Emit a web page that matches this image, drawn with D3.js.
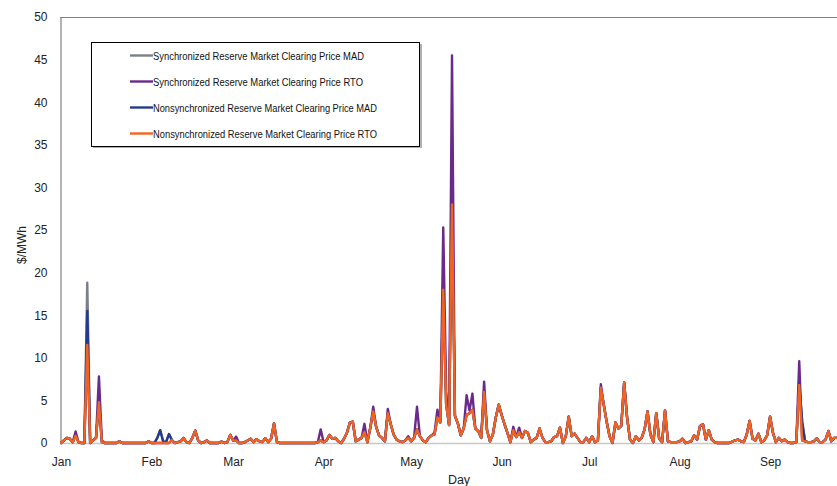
<!DOCTYPE html>
<html>
<head>
<meta charset="utf-8">
<script src="https://cdn.jsdelivr.net/npm/d3@7"></script>
<style>
  html, body { margin: 0; padding: 0; background: #fff; }
  svg { display: block; font-family: "Liberation Sans", Arial, sans-serif; }
</style>
</head>
<body>
<svg id="chart" width="837" height="486"></svg>
<script>
// ---- data (daily values starting Jan 1) ----
const seriesNames = [
  "Synchronized Reserve Market Clearing Price MAD",
  "Synchronized Reserve Market Clearing Price RTO",
  "Nonsynchronized Reserve Market Clearing Price MAD",
  "Nonsynchronized Reserve Market Clearing Price RTO"
];
const monthLabels = ["Jan","Feb","Mar","Apr","May","Jun","Jul","Aug","Sep"];
const yTicks = [0,5,10,15,20,25,30,35,40,45,50];

const syncMAD = [
  0,0.3,0.6,0.5,0.1,0.85,0.1,0,0,18.8,
  0,0.3,0.6,4.8,0.1,0,0,0,0,0,
  0.2,0,0,0,0,0,0,0,0,0,
  0.2,0,0,0.6,1.5,0.2,0.1,1.05,0.35,0,
  0.1,0.2,0.55,0.1,0,0.6,1.45,0.3,0,0.1,
  0.3,0,0,0,0,0.15,0,0.1,0.95,0.3,
  0.3,0,0,0.1,0.3,0.5,0.1,0.45,0.2,0.1,
  0.55,0.1,0.5,2.3,0.1,0,0,0,0,0,
  0,0,0,0,0,0,0,0,0.1,0.3,
  0.1,0.3,0.95,0.5,0.6,0.2,0,0.5,1.2,2.4,
  2.5,0.2,0.4,0.6,1.3,0.1,1.8,3.7,1.9,0.9,
  0.6,0.2,3.5,2.2,1.0,0.4,0.2,0.1,0.3,0.6,
  0.2,0.6,1.6,0.8,0.3,0.1,0.6,0.9,1.0,3.0,
  2.4,18.0,4.5,2.1,28.0,3.2,2.3,0.9,1.7,3.3,
  3.5,3.9,1.7,1.4,0.6,6.0,1.5,0.2,1.0,3.0,
  4.5,3.3,2.2,1.2,0.1,1.5,0.7,1.3,0.6,1.4,
  1.2,0.1,0.4,0.6,1.7,0.6,0.1,0.1,0.2,0.7,
  0.8,1.8,0,0.8,3.1,0.8,1.1,0.6,0.1,0.1,
  0.6,0.1,0.8,0.1,0.3,6.5,4.5,2.5,0.8,0,
  2.4,1.7,2.0,7.1,3.0,0.4,0,0.8,0.3,0.6,
  1.6,3.7,1.0,0.1,3.5,0.5,0.1,3.8,0.2,0.1,
  0.1,0.1,0.2,0.5,0,0.1,0.2,0.9,0.4,2.0,
  2.2,0.4,1.5,0.4,0.1,0,0,0,0,0,
  0.15,0.3,0.4,0.2,0.1,1.0,2.6,0.5,0.3,1.1,
  0.1,0.3,0.9,3.1,1.2,0.1,0.6,0.2,0.4,0.1,
  0,0,0.1,7.0,2.5,0.2,0.1,0.1,0.2,0.55,
  0.1,0.1,0.4,1.4,0.2,0.6,0.6,0.3
];
const syncRTO = [
  0,0.3,0.6,0.5,0.1,1.35,0.1,0,0,11.5,
  0,0.3,0.6,7.8,0.3,0,0,0,0,0,
  0.2,0,0,0,0,0,0,0,0,0,
  0.2,0,0,0,0,0,0,0,0.35,0,
  0.1,0.2,0.6,0.1,0,0.6,1.45,0.3,0,0.1,
  0.3,0,0,0,0,0.15,0,0.1,0.95,0.3,
  0.75,0,0,0.1,0.3,0.5,0.1,0.45,0.2,0.1,
  0.55,0.1,0.5,2.3,0.1,0,0,0,0,0,
  0,0,0,0,0,0,0,0,0.1,1.6,
  0.1,0.3,0.95,0.5,0.6,0.2,0,0.5,1.2,2.4,
  2.5,0.2,0.4,0.6,2.25,0.1,1.8,4.25,1.9,0.9,
  0.6,0.2,4.0,2.2,1.0,0.4,0.2,0.1,0.3,0.8,
  0.2,0.6,4.25,0.8,0.3,0.1,0.6,0.9,1.2,3.9,
  2.6,25.3,6.0,2.1,45.5,3.2,2.3,0.9,1.7,5.6,
  3.8,5.8,1.7,1.4,0.6,7.2,1.5,0.2,1.0,3.0,
  4.5,3.3,2.2,1.2,0.1,1.9,0.7,1.8,0.6,1.4,
  1.2,0.1,0.4,0.6,1.7,0.6,0.1,0.1,0.2,0.7,
  0.8,1.8,0,0.8,3.1,0.8,1.1,0.6,0.1,0.1,
  0.6,0.1,0.8,0.1,0.3,6.9,4.5,2.5,0.8,0,
  2.4,1.7,2.0,7.1,3.0,0.4,0,0.8,0.3,0.6,
  1.6,3.7,1.0,0.1,3.5,0.5,0.1,3.8,0.2,0.1,
  0.1,0.1,0.2,0.5,0,0.1,0.2,0.9,0.4,2.0,
  2.2,0.4,1.5,0.4,0.1,0,0,0,0,0,
  0.15,0.3,0.4,0.2,0.1,1.0,2.6,0.5,0.3,1.1,
  0.1,0.3,0.9,3.1,1.2,0.1,0.6,0.2,0.4,0.1,
  0,0,0.1,9.6,0.3,0.2,0.1,0.1,0.2,0.55,
  0.1,0.1,0.4,1.4,0.2,0.6,0.6,0.3
];
const nonsyncMAD = [
  0,0.3,0.6,0.5,0.1,0.85,0.1,0,0,15.5,
  0,0.3,0.6,4.8,0.1,0,0,0,0,0,
  0.2,0,0,0,0,0,0,0,0,0,
  0.2,0,0,0.6,1.5,0.2,0.1,1.05,0.35,0,
  0.1,0.2,0.55,0.1,0,0.6,1.45,0.3,0,0.1,
  0.3,0,0,0,0,0.15,0,0.1,0.95,0.3,
  0.3,0,0,0.1,0.3,0.5,0.1,0.45,0.2,0.1,
  0.55,0.1,0.5,2.3,0.1,0,0,0,0,0,
  0,0,0,0,0,0,0,0,0.1,0.3,
  0.1,0.3,0.95,0.5,0.6,0.2,0,0.5,1.2,2.4,
  2.5,0.2,0.4,0.6,1.3,0.1,1.8,3.7,1.9,0.9,
  0.6,0.2,3.5,2.2,1.0,0.4,0.2,0.1,0.3,0.6,
  0.2,0.6,1.6,0.8,0.3,0.1,0.6,0.9,1.0,3.0,
  2.4,18.0,4.5,2.1,28.0,3.2,2.3,0.9,1.7,3.3,
  3.5,3.9,1.7,1.4,0.6,6.0,1.5,0.2,1.0,3.0,
  4.5,3.3,2.2,1.2,0.1,1.5,0.7,1.3,0.6,1.4,
  1.2,0.1,0.4,0.6,1.7,0.6,0.1,0.1,0.2,0.7,
  0.8,1.8,0,0.8,3.1,0.8,1.1,0.6,0.1,0.1,
  0.6,0.1,0.8,0.1,0.3,6.5,4.5,2.5,0.8,0,
  2.4,1.7,2.0,7.1,3.0,0.4,0,0.8,0.3,0.6,
  1.6,3.7,1.0,0.1,3.5,0.5,0.1,3.8,0.2,0.1,
  0.1,0.1,0.2,0.5,0,0.1,0.2,0.9,0.4,2.0,
  2.2,0.4,1.5,0.4,0.1,0,0,0,0,0,
  0.15,0.3,0.4,0.2,0.1,1.0,2.6,0.5,0.3,1.1,
  0.1,0.3,0.9,3.1,1.2,0.1,0.6,0.2,0.4,0.1,
  0,0,0.1,7.0,2.5,0.2,0.1,0.1,0.2,0.55,
  0.1,0.1,0.4,1.4,0.2,0.6,0.6,0.3
];
const nonsyncRTO = [
  0,0.3,0.6,0.5,0.1,0.85,0.1,0,0,11.5,
  0,0.3,0.6,4.8,0.1,0,0,0,0,0,
  0.2,0,0,0,0,0,0,0,0,0,
  0.2,0,0,0,0,0,0,0,0.35,0,
  0.1,0.2,0.55,0.1,0,0.6,1.45,0.3,0,0.1,
  0.3,0,0,0,0,0.15,0,0.1,0.95,0.3,
  0.3,0,0,0.1,0.3,0.5,0.1,0.45,0.2,0.1,
  0.55,0.1,0.5,2.3,0.1,0,0,0,0,0,
  0,0,0,0,0,0,0,0,0.1,0.3,
  0.1,0.3,0.95,0.5,0.6,0.2,0,0.5,1.2,2.4,
  2.5,0.2,0.4,0.6,1.3,0.1,1.8,3.7,1.9,0.9,
  0.6,0.2,3.5,2.2,1.0,0.4,0.2,0.1,0.3,0.6,
  0.2,0.6,1.6,0.8,0.3,0.1,0.6,0.9,1.0,3.0,
  2.4,18.0,4.5,2.1,28.0,3.2,2.3,0.9,1.7,3.3,
  3.5,3.9,1.7,1.4,0.6,6.0,1.5,0.2,1.0,3.0,
  4.5,3.3,2.2,1.2,0.1,1.5,0.7,1.3,0.6,1.4,
  1.2,0.1,0.4,0.6,1.7,0.6,0.1,0.1,0.2,0.7,
  0.8,1.8,0,0.8,3.1,0.8,1.1,0.6,0.1,0.1,
  0.6,0.1,0.8,0.1,0.3,6.5,4.5,2.5,0.8,0,
  2.4,1.7,2.0,7.1,3.0,0.4,0,0.8,0.3,0.6,
  1.6,3.7,1.0,0.1,3.5,0.5,0.1,3.8,0.2,0.1,
  0.1,0.1,0.2,0.5,0,0.1,0.2,0.9,0.4,2.0,
  2.2,0.4,1.5,0.4,0.1,0,0,0,0,0,
  0.15,0.3,0.4,0.2,0.1,1.0,2.6,0.5,0.3,1.1,
  0.1,0.3,0.9,3.1,1.2,0.1,0.6,0.2,0.4,0.1,
  0,0,0.1,6.8,0.3,0.2,0.1,0.1,0.2,0.55,
  0.1,0.1,0.4,1.4,0.2,0.6,0.6,0.3
];

// ---- drawing ----
const colors = ["#7a8089", "#6a2a8a", "#243a8c", "#f26322"];
const seriesData = [syncMAD, syncRTO, nonsyncMAD, nonsyncRTO];

const svg = d3.select("#chart");
const startDate = new Date(Date.UTC(2015, 0, 1));
const endDate = new Date(Date.UTC(2015, 9, 1));
const plot = { left: 60, top: 17, bottom: 443, right: 858 };

const x = d3.scaleUtc().domain([startDate, endDate]).range([61, 857.6]);
const y = d3.scaleLinear().domain([0, 50]).range([plot.bottom, plot.top]);

const dayDate = i => d3.utcDay.offset(startDate, i);

// clip
svg.append("defs").append("clipPath").attr("id", "clip")
  .append("rect").attr("x", plot.left).attr("y", 0)
  .attr("width", plot.right - plot.left).attr("height", plot.bottom + 2);

// baseline (light gray)
const xAxis = d3.axisBottom(x)
  .tickValues(d3.utcMonth.range(startDate, endDate))
  .tickFormat((d, i) => monthLabels[i])
  .tickSize(0).tickPadding(14);
const gx = svg.append("g").attr("transform", `translate(0,${plot.bottom})`).call(xAxis);
gx.select(".domain").remove();
gx.selectAll("text").attr("font-size", 12).attr("fill", "#222")
  .attr("font-family", "Liberation Sans, Arial, sans-serif");
svg.append("line").attr("x1", plot.left).attr("x2", plot.right)
  .attr("y1", plot.bottom + 0.5).attr("y2", plot.bottom + 0.5)
  .attr("stroke", "#c8c8c8").attr("stroke-width", 1.5);

// top border
svg.append("line").attr("x1", plot.left).attr("x2", plot.right)
  .attr("y1", plot.top + 0.5).attr("y2", plot.top + 0.5)
  .attr("stroke", "#808080").attr("stroke-width", 1);

// y axis
const yAxis = d3.axisLeft(y).tickValues(yTicks).tickSize(0).tickPadding(13);
const gy = svg.append("g").attr("transform", `translate(${plot.left + 0.5},0)`).call(yAxis);
gy.select(".domain").attr("stroke", "#808080").attr("stroke-width", 1.2);
gy.selectAll("text").attr("font-size", 12).attr("fill", "#222")
  .attr("font-family", "Liberation Sans, Arial, sans-serif");

// lines
const line = d3.line().x((d, i) => x(dayDate(i))).y(d => y(d));
const lg = svg.append("g").attr("clip-path", "url(#clip)");
seriesData.forEach((s, k) => {
  lg.append("path").datum(s).attr("d", line)
    .attr("fill", "none").attr("stroke", colors[k])
    .attr("stroke-width", 2.4).attr("stroke-linejoin", "round").attr("stroke-linecap", "round");
});

// axis titles
svg.append("text").attr("x", 459).attr("y", 484).attr("text-anchor", "middle")
  .attr("font-size", 12.5).attr("fill", "#222").text("Day");
svg.append("text").attr("transform", "translate(26,245) rotate(-90)")
  .attr("text-anchor", "middle").attr("font-size", 12).attr("fill", "#222").text("$/MWh");

// legend
const legend = svg.append("g");
legend.append("rect").attr("x", 93).attr("y", 44).attr("width", 329).attr("height", 104)
  .attr("fill", "#b0b0b0");
legend.append("rect").attr("x", 91.5).attr("y", 42.5).attr("width", 328).attr("height", 104)
  .attr("fill", "#fff").attr("stroke", "#000").attr("stroke-width", 1);
const legY = [55.5, 81.5, 107.5, 133.5];
const legW = [211, 210, 224, 224];
seriesNames.forEach((name, k) => {
  legend.append("line").attr("x1", 130).attr("x2", 153).attr("y1", legY[k]).attr("y2", legY[k])
    .attr("stroke", colors[k]).attr("stroke-width", 2.4);
  legend.append("text").attr("x", 153).attr("y", legY[k] + 4)
    .attr("font-size", 10.5).attr("fill", "#111")
    .attr("textLength", legW[k]).attr("lengthAdjust", "spacingAndGlyphs")
    .text(name);
});
</script>
</body>
</html>
